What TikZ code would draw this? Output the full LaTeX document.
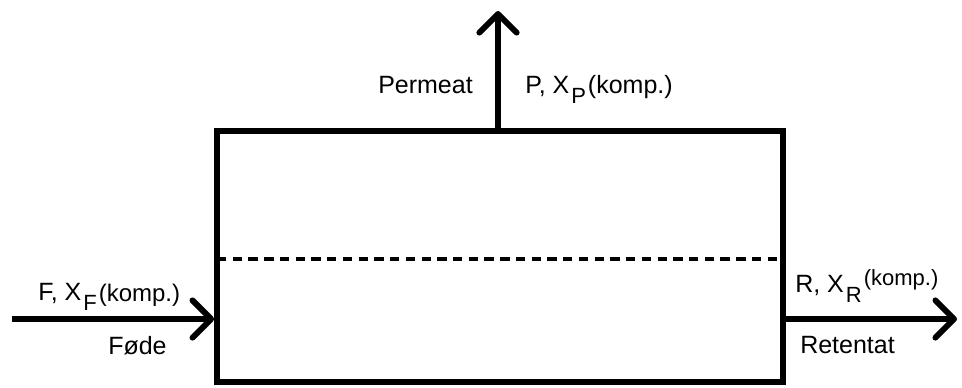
\documentclass[tikz,border=0pt]{standalone}
\usepackage{fontspec}
\setmainfont{Liberation Sans}
\usetikzlibrary{arrows.meta}
\newcommand\lblsub[1]{\kern1.5pt\raisebox{-8pt}{\fontsize{16.5}{17}\selectfont #1}\kern1.5pt}
\newcommand\lblkomp[2]{\raisebox{#1}{\fontsize{#2}{18}\selectfont (komp.)}}
\tikzset{
  unit/.style={x=0.75pt,y=-0.75pt},
  thick line/.style={line width=4.4pt},
  flow/.style={thick line,-{Straight Barb[length=14pt,width=28pt,round]}},
  membrane/.style={line width=3.6pt,dash pattern=on 7pt off 4.8pt},
  lbl/.style={inner sep=0pt,anchor=base west,font=\fontsize{18.75}{22}\selectfont}
}
\begin{document}
\begin{tikzpicture}[unit]
\useasboundingbox (0,0) rectangle (962,387);
\node[thick line,draw,minimum width=566*0.75pt,minimum height=251*0.75pt,inner sep=0pt] (box) at (500,256.5) {};
\coordinate (ml) at (217,259);
\coordinate (mr) at (783,259);
\draw[membrane] (ml) -- (mr);
\coordinate (ptip) at (498,11);
\coordinate (fin) at (12,319);
\coordinate (rout) at (957,319);
\draw[flow] (ptip |- box.north) -- (ptip);
\draw[flow] (fin) -- (fin -| box.west);
\draw[flow] (rout -| box.east) -- (rout);
\node[lbl] (perm) at (378,93) {Permeat};
\node[lbl] (plbl) at (525,93) {P, X\lblsub{P}\lblkomp{0pt}{18.75}};
\node[lbl] (flbl) at (38,300) {F, X\lblsub{F}\lblkomp{-1pt}{18}};
\node[lbl] (fode) at (108,354) {Føde};
\node[lbl] (rlbl) at (795,292) {R, X\lblsub{R}\lblkomp{5pt}{16.5}};
\node[lbl] (ret) at (800,353) {Retentat};
\end{tikzpicture}
\end{document}
